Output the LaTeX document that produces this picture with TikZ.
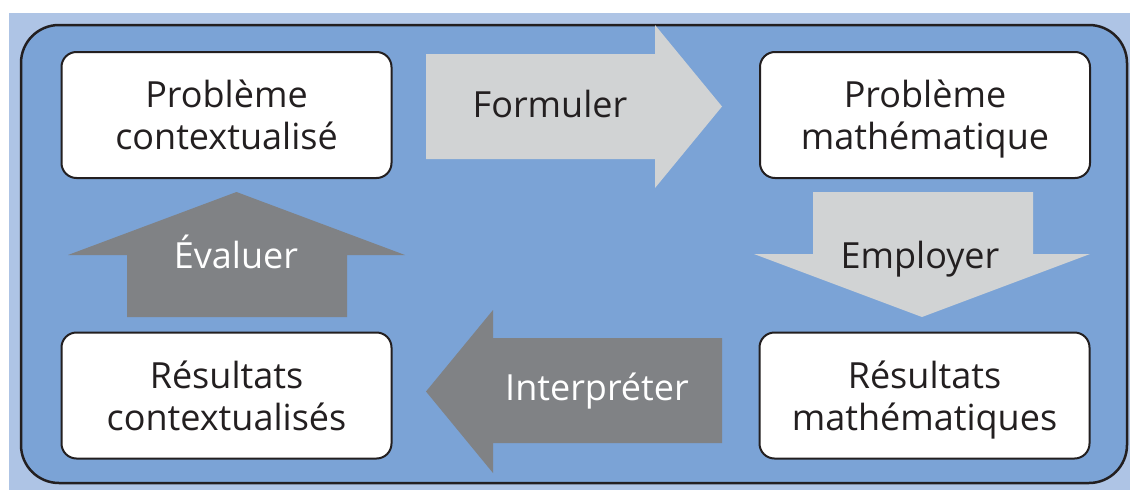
\documentclass[tikz,border=0pt]{standalone}
\usepackage{fontspec}
\setmainfont{Open Sans}
\definecolor{bgblue}{HTML}{AEC4E5}
\definecolor{frameblue}{HTML}{7BA3D6}
\definecolor{lightarrow}{HTML}{D1D3D4}
\definecolor{darkarrow}{HTML}{808285}
\definecolor{ink}{HTML}{231F20}

\begin{document}
\begin{tikzpicture}[x=1pt,y=-1pt,font=\fontsize{36}{42}\selectfont,
  box/.style={draw=ink,line width=2pt,fill=white,rounded corners=15pt,
    minimum width=330pt,minimum height=126pt,align=center,text=ink,text depth=0pt},
  lbl/.style={anchor=base}]
\useasboundingbox (0,0) rectangle (1130,490);
\fill[bgblue] (9,13) rectangle (1130,490);
\draw[ink,line width=2.5pt,fill=frameblue,rounded corners=38pt] (21,25) rectangle (1127,483);
\node[box] (probctx) at (226.5,115) {Problème\\contextualisé};
\node[box] (probmath) at (925,115) {Problème\\mathématique};
\node[box] (resmath) at (924.5,395.5) {Résultats\\mathématiques};
\node[box] (resctx) at (226.5,395.5) {Résultats\\contextualisés};
\fill[lightarrow] (426,54) -- (655,54) -- (655,25) -- (722,106.5) -- (655,188) -- (655,159) -- (426,159) -- cycle;
\fill[lightarrow] (813,192) -- (1033,192) -- (1033,254) -- (1090,254) -- (922,317) -- (754,254) -- (813,254) -- cycle;
\fill[darkarrow] (127,317) -- (347,317) -- (347,255) -- (405,255) -- (236.5,192) -- (68,255) -- (127,255) -- cycle;
\fill[darkarrow] (722,338) -- (493,338) -- (493,310) -- (426,391.5) -- (493,473) -- (493,443) -- (722,443) -- cycle;
\node[lbl,text=ink] (formuler) at (550,117) {Formuler};
\node[lbl,text=ink] (employer) at (920,268) {Employer};
\node[lbl,text=white] (evaluer) at (236,268) {Évaluer};
\node[lbl,text=white] (interpreter) at (597,400) {Interpréter};
\end{tikzpicture}
\end{document}
